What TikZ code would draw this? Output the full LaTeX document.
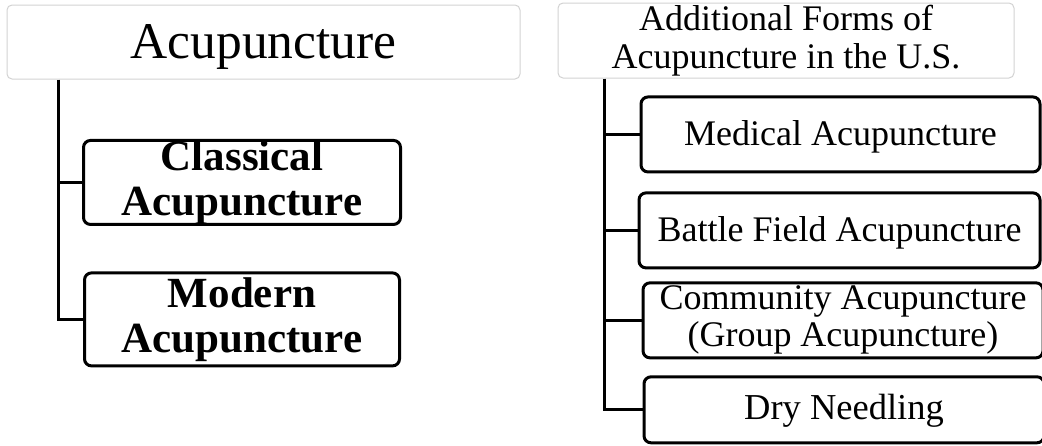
\documentclass[tikz,border=0pt]{standalone}
\usepackage{fontspec}
\setmainfont{Liberation Serif}
\usepackage{tikz}
\usetikzlibrary{calc}

\begin{document}
\begin{tikzpicture}[x=1pt,y=1pt,
		headbox/.style={rectangle,draw=gray!35,line width=1pt,rounded corners=5pt,
		inner sep=0pt,align=center},
		itembox/.style={rectangle,draw,line width=3pt,rounded corners=7pt,
		inner sep=0pt,align=center,minimum height=75pt},
		oneline/.style={text height=26pt,text depth=4pt},
		branch/.style={line width=3pt}
		]
		\useasboundingbox (0,0) rectangle (1042,-445);

		% left tree
		\node[headbox, minimum width=513pt, minimum height=74pt,
		text height=36pt, text depth=4pt,
		font=\fontsize{51.5}{58}\selectfont] at (263.5,-42)(L0){Acupuncture};
		\node[itembox, below of = L0, xshift = -21.5pt, yshift = -112pt,
		minimum width=317pt, minimum height=79pt,
		font=\fontsize{43}{45}\selectfont\bfseries](L1){Classical\\Acupuncture};
		\node[itembox, below of = L1, yshift = -108.5pt,
		minimum width=315pt, minimum height=93pt,
		font=\fontsize{43}{45}\selectfont\bfseries](L2){Modern\\Acupuncture};
		\coordinate (LT) at ($(L0.south)+(-205.5,0)$);
		\draw[branch] (LT) |- (L2.west);
		\draw[branch] (L1.west) -- (L1.west -| LT);

		% right tree
		\node[headbox, minimum width=456pt, minimum height=75pt,
		font=\fontsize{36}{38}\selectfont] at (786,-40.5)(R0){Additional Forms of\\Acupuncture in the U.S.};
		\node[itembox, oneline, below of = R0, xshift = 54.5pt, yshift = -65.5pt,
		minimum width=399pt, font=\fontsize{36}{38}\selectfont](R1){Medical Acupuncture};
		\node[itembox, oneline, below of = R1, xshift = -1pt, yshift = -67.5pt,
		minimum width=401pt, font=\fontsize{36}{38}\selectfont](R2){Battle Field Acupuncture};
		\node[itembox, below of = R2, xshift = 3.5pt, yshift = -61.5pt,
		minimum width=400pt, font=\fontsize{36}{37}\selectfont](R3){Community Acupuncture\\(Group Acupuncture)};
		\node[itembox, below of = R3, xshift = 1pt, yshift = -61pt,
		minimum width=400pt, minimum height=66pt, text height=23pt, text depth=4pt,
		font=\fontsize{36.5}{38}\selectfont](R4){Dry Needling};
		\coordinate (RT) at ($(R0.south)+(-182,0)$);
		\draw[branch] (RT) |- (R4.west);
		\draw[branch] (R1.west) -- (R1.west -| RT);
		\draw[branch] (R2.west) -- (R2.west -| RT);
		\draw[branch] (R3.west) -- (R3.west -| RT);
	\end{tikzpicture}
\end{document}
